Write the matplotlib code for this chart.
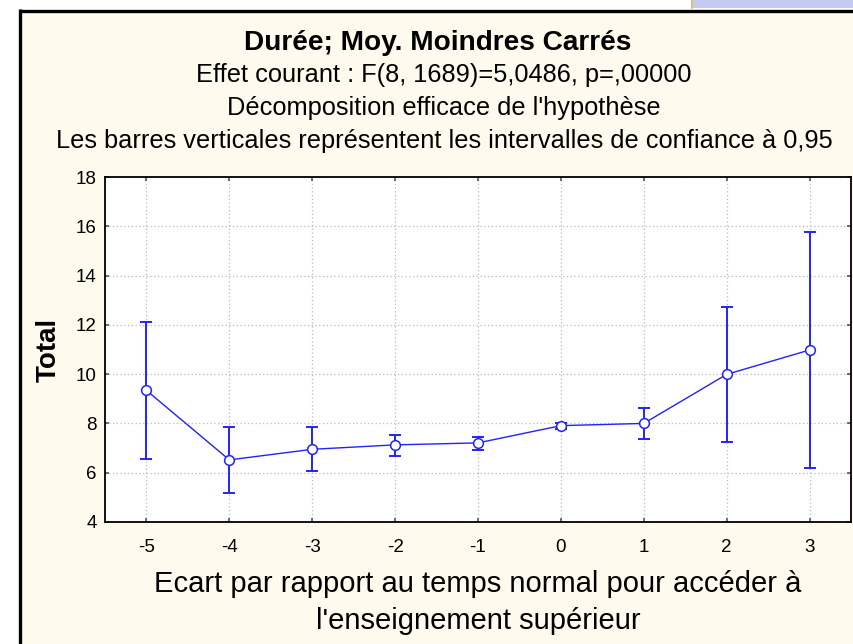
import matplotlib
matplotlib.use("Agg")
import matplotlib.pyplot as plt
from matplotlib.patches import Rectangle
from matplotlib.lines import Line2D

plt.rcParams['font.family'] = ['Liberation Sans', 'DejaVu Sans']

# Data
x_levels = [-5, -4, -3, -2, -1, 0, 1, 2, 3]
means = [9.34, 6.52, 6.95, 7.13, 7.21, 7.91, 8.00, 9.99, 10.98]
ci_low = [6.55, 5.19, 6.06, 6.66, 6.93, 7.79, 7.36, 7.24, 6.19]
ci_high = [12.10, 7.84, 7.84, 7.53, 7.45, 8.03, 8.62, 12.74, 15.78]
yticks = [4, 6, 8, 10, 12, 14, 16, 18]

title = "Durée; Moy. Moindres Carrés"
subtitles = ["Effet courant : F(8, 1689)=5,0486, p=,00000",
             "Décomposition efficace de l'hypothèse",
             "Les barres verticales représentent les intervalles de confiance à 0,95"]
xlabel = "Ecart par rapport au temps normal pour accéder à\nl'enseignement supérieur"
ylabel = "Total"

W, H = 854, 644
fig = plt.figure(figsize=(W / 100, H / 100), dpi=100, facecolor='white')

cream = '#FFFAEE'
# frame background
fig.add_artist(Rectangle((19 / W, 0), 1 - 19 / W, 1 - 10 / H, transform=fig.transFigure,
                         facecolor=cream, edgecolor='none', zorder=0))
# top-right blue tab
fig.add_artist(Rectangle((691 / W, 1 - 8 / H), 1 - 691 / W, 8 / H, transform=fig.transFigure,
                         facecolor='#C4C9F1', edgecolor='none', zorder=0))
fig.add_artist(Line2D([692 / W, 692 / W], [1 - 8 / H, 1], transform=fig.transFigure,
                      color='#F0B860', lw=1.2, zorder=1))
# frame lines (left and top)
fig.add_artist(Line2D([20.5 / W, 20.5 / W], [0, 1 - 9 / H], transform=fig.transFigure,
                      color='black', lw=2.4, zorder=2, solid_capstyle='butt'))
fig.add_artist(Line2D([19 / W, 1], [1 - 10.5 / H, 1 - 10.5 / H], transform=fig.transFigure,
                      color='black', lw=2.4, zorder=2, solid_capstyle='butt'))

ax = fig.add_axes([105 / W, 1 - 522 / H, (851 - 105) / W, (522 - 177) / H])
ax.set_facecolor('white')

blue = '#2222FF'
ax.errorbar(x_levels, means,
            yerr=[[m - l for m, l in zip(means, ci_low)], [h - m for m, h in zip(means, ci_high)]],
            fmt='none', ecolor=blue, elinewidth=1.4, capsize=4.5, capthick=1.4, zorder=3)
ax.plot(x_levels, means, color=blue, lw=1.0, marker='o', markersize=7,
        markerfacecolor='white', markeredgecolor=blue, markeredgewidth=1.1, zorder=4)

ax.set_xlim(-5.5, 3.5)
ax.set_ylim(4, 18)
ax.set_xticks(x_levels)
ax.set_xticklabels([str(v) for v in x_levels])
ax.set_yticks(yticks)
ax.set_yticklabels([str(v) for v in yticks])
ax.grid(True, linestyle=(0, (1, 2)), color='#BBBBBB', lw=0.9)
ax.tick_params(direction='in', length=3, width=1.2, color='#555555',
               top=True, right=True, labelsize=13.5, pad=6)
ax.tick_params(axis='x', pad=12)
for s in ax.spines.values():
    s.set_linewidth(1.3)
    s.set_color('black')

ax.set_xlabel(xlabel, fontsize=21, labelpad=10, linespacing=1.45)
ax.set_ylabel(ylabel, fontsize=20, fontweight='bold', labelpad=10)

cx = 444 / W
fig.text(438 / W, 1 - 43 / H, title, ha='center', va='center', fontsize=20.2, fontweight='bold')
for i, t in enumerate(subtitles):
    fig.text(cx, 1 - (75 + 33 * i) / H, t, ha='center', va='center', fontsize=18.3)

fig.savefig('out.png', dpi=100, facecolor=fig.get_facecolor())
